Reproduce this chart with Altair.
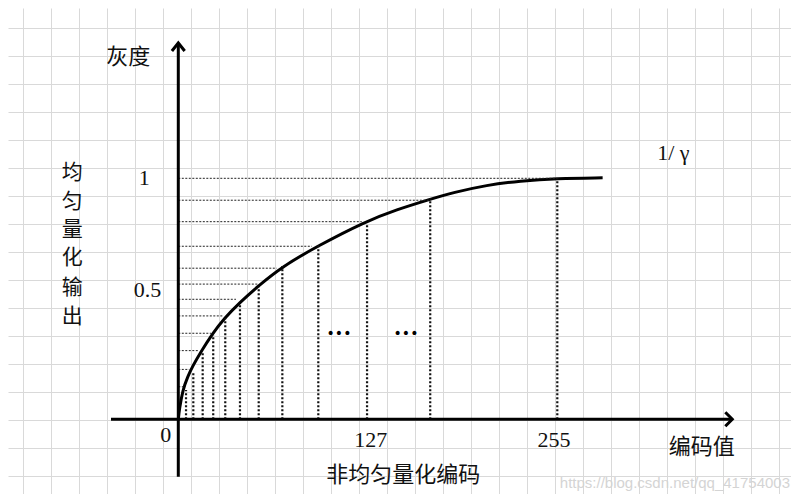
import altair as alt
import pandas as pd

# ---------------- data ----------------
# dotted horizontals: uniform output level and the code value where each one stops (at the curve)
h_levels = [1.0, 0.909, 0.820, 0.718, 0.627, 0.561, 0.498, 0.429, 0.357, 0.285, 0.207, 0.135]
h_ends = [255, 169.5, 123.4, 89.8, 66.2, 53.4, 38.8, 29.9, 22.0, 14.1, 7.4, 3.4]
# dotted verticals: non-uniform code value and the output level where each one stops
v_codes = [5.2, 10.1, 16.4, 23.5, 31.6, 41.5, 54.1, 70.0, 94.2, 127, 169.5, 255]
v_tops = [0.122, 0.198, 0.281, 0.350, 0.419, 0.474, 0.550, 0.636, 0.723, 0.813, 0.917, 1.0]
# the 1/gamma curve
curve_x = [0, 0.67, 2.96, 6.32, 9.69, 15.27, 23.15, 30.95, 41.04, 54.1, 69.57, 93.12,
           125.6, 146.9, 169.4, 185.0, 207.5, 229.9, 254.6, 285.5]
curve_y = [0, 0.039, 0.122, 0.177, 0.221, 0.281, 0.357, 0.419, 0.483, 0.555, 0.632, 0.717,
           0.820, 0.870, 0.913, 0.941, 0.972, 0.989, 1.0, 1.002]
x_tick_labels = ["0", "127", "255"]
y_tick_labels = ["0.5", "1"]

# ---------------- layout ----------------
W, H = 783, 486
K = 255 / 379.0          # code units per pixel
X0PX, Y0PX, YPX = 178.3, 419.3, 241.0


def u_of(px):
    return (px - X0PX) * K


def v_of(py):
    return (Y0PX - py) / YPX


xdom = [u_of(8), u_of(8 + W)]
ydom = [v_of(8 + H), v_of(8)]
xs = alt.Scale(domain=xdom, nice=False, zero=False)
ys = alt.Scale(domain=ydom, nice=False, zero=False)

# square background grid (28 px)
gx = [u_of(22.7 + 28 * i) for i in range(28)]
gy = [v_of(0.3 + 28 * i) for i in range(1, 18)]
gridcol = "#d9d9d9"
xaxis = alt.Axis(values=gx, grid=True, gridColor=gridcol, gridWidth=1, labels=False,
                 ticks=False, domain=False, title=None)
yaxis = alt.Axis(values=gy, grid=True, gridColor=gridcol, gridWidth=1, labels=False,
                 ticks=False, domain=False, title=None)

curve_df = pd.DataFrame({"u": curve_x, "v": curve_y})
h_df = pd.DataFrame({"v": h_levels, "u": h_ends, "zero": 0.0})
v_df = pd.DataFrame({"u": v_codes, "v": v_tops, "zero": 0.0})

curve = alt.Chart(curve_df).mark_line(interpolate="basis", color="black",
                                      strokeWidth=3).encode(
    x=alt.X("u:Q", scale=xs, axis=xaxis),
    y=alt.Y("v:Q", scale=ys, axis=yaxis),
)

hrules = alt.Chart(h_df).mark_rule(color="#222", strokeWidth=1, strokeDash=[2, 1.5]).encode(
    x=alt.X("zero:Q", scale=xs, axis=xaxis), x2="u:Q",
    y=alt.Y("v:Q", scale=ys, axis=yaxis),
)

vrules = alt.Chart(v_df).mark_rule(color="#111", strokeWidth=2.2, strokeDash=[2, 2]).encode(
    x=alt.X("u:Q", scale=xs, axis=xaxis),
    y=alt.Y("zero:Q", scale=ys, axis=yaxis), y2="v:Q",
)

yaxis_line = alt.Chart().mark_rule(color="black", strokeWidth=3).encode(
    x=alt.X(datum=0, scale=xs, axis=xaxis),
    y=alt.Y(datum=v_of(476.7), scale=ys, axis=yaxis), y2=alt.datum(v_of(43.5)),
)
xaxis_line = alt.Chart().mark_rule(color="black", strokeWidth=3).encode(
    x=alt.X(datum=u_of(111), scale=xs, axis=xaxis), x2=alt.datum(u_of(731.5)),
    y=alt.Y(datum=0, scale=ys, axis=yaxis),
)
up_arrow = alt.Chart().mark_point(shape="M-0.8,1L0,0L0.8,1", size=256, filled=False,
                                  stroke="black", strokeWidth=3, opacity=1,
                                  strokeJoin="miter").encode(
    x=alt.X(datum=0, scale=xs, axis=xaxis),
    y=alt.Y(datum=v_of(43), scale=ys, axis=yaxis),
)
right_arrow = alt.Chart().mark_point(shape="M-1,-1L0,0L-1,1", size=196, filled=False,
                                     stroke="black", strokeWidth=3, opacity=1,
                                     strokeJoin="miter").encode(
    x=alt.X(datum=u_of(732.3), scale=xs, axis=xaxis),
    y=alt.Y(datum=0, scale=ys, axis=yaxis),
)


def label(text, px, py, font, size, color="#111", align="center", weight="normal"):
    return alt.Chart().mark_text(text=text, font=font, fontSize=size, color=color,
                                 align=align, baseline="middle", fontWeight=weight).encode(
        x=alt.X(datum=u_of(px), scale=xs, axis=xaxis),
        y=alt.Y(datum=v_of(py), scale=ys, axis=yaxis),
    )


SERIF = "Liberation Serif"
CJK = "Noto Sans CJK SC"
vert_chars = ["均", "匀", "量", "化", "输", "出"]
vert_y = [173.3, 201.7, 230, 258.3, 288.3, 316.7]
texts = [
    label("灰度", 128.3, 57.3, CJK, 22),
    label(y_tick_labels[1], 144.3, 177.5, SERIF, 22),
    label(y_tick_labels[0], 147.5, 290, SERIF, 22),
    label(x_tick_labels[0], 165.7, 435, SERIF, 22),
    label(x_tick_labels[1], 370.7, 440, SERIF, 22),
    label(x_tick_labels[2], 554, 440, SERIF, 22),
    label("编码值", 701.7, 446.7, CJK, 22),
    label("非均匀量化编码", 403.3, 475, CJK, 22),
    label("1/ γ", 673.3, 153.3, SERIF, 22),
    label("•••", 339, 333.7, "DejaVu Sans", 14, color="black"),
    label("•••", 406, 333.7, "DejaVu Sans", 14, color="black"),
    label("https://blog.csdn.net/qq_41754003", 790, 483.3, "Liberation Sans", 15,
          color="#d4d4d4", align="right"),
] + [label(c, 72.3, y, CJK, 21) for c, y in zip(vert_chars, vert_y)]

chart = alt.layer(curve, hrules, vrules, yaxis_line, xaxis_line, up_arrow, right_arrow,
                  *texts).properties(
    width=W, height=H, padding=0, autosize=alt.AutoSizeParams(type="none"),
    background="white",
).configure_view(stroke=None)

chart.save("out.html", embed_options={"renderer": "svg", "actions": False})
